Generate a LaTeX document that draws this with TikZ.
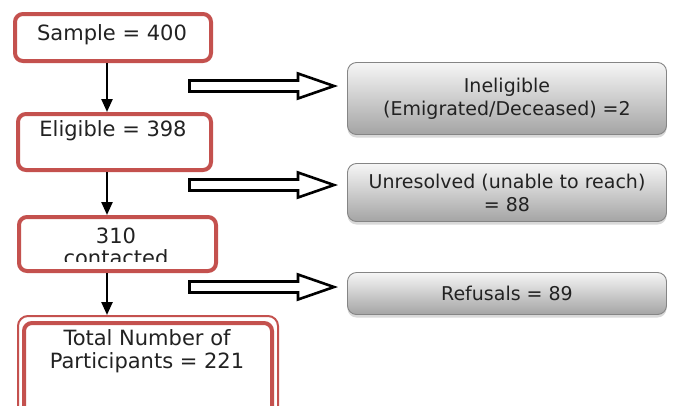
\documentclass[tikz,border=0pt]{standalone}
\usepackage{fontspec}
\setmainfont{DejaVu Sans}
\usetikzlibrary{shadows,arrows.meta,calc}
\definecolor{boxred}{HTML}{C4514E}
\definecolor{gtop}{HTML}{F6F6F6}
\definecolor{gbot}{HTML}{A4A4A4}
\definecolor{gline}{HTML}{858585}
\definecolor{txt}{HTML}{222222}
\tikzset{
  redbox/.style={draw=boxred, line width=4pt, rounded corners=8pt, fill=white, inner sep=0pt},
  graybox/.style={draw=gline, line width=0.9pt, rounded corners=9pt, top color=gtop, bottom color=gbot,
     drop shadow={shadow xshift=0pt, shadow yshift=-3pt, opacity=0.3}, inner sep=0pt,
     minimum width=319pt, align=center, font=\fontsize{19}{23}\selectfont, text=txt},
  bigarrow/.style={draw=black, line width=2.6pt, fill=white, line join=miter},
  vline/.style={draw=black, line width=2.4pt, -{Triangle[length=13pt,width=11pt]}},
  redtext/.style={font=\fontsize{21}{22.5}\selectfont, text=txt, inner sep=0pt, align=center}
}
\begin{document}
\begin{tikzpicture}[x=1pt,y=-1pt]
\useasboundingbox (0,0) rectangle (674,405);
% red boxes
\node[redbox, minimum width=196pt, minimum height=47pt] (s) at (113,37.5) {};
\node[redtext] (st) at (112,34.5) {Sample = 400};
\node[redbox, minimum width=193pt, minimum height=56pt] (e) at (114.5,142) {};
\node[redtext] (et) at (113,131) {Eligible = 398};
\node[redbox, minimum width=197pt, minimum height=54pt] (c) at (117.5,244) {};
\begin{scope}
\clip (c.north west) rectangle ([yshift=12pt]c.south east);
\node[redtext] (ct) at (116,247) {310\\contacted};
\end{scope}
% total box (double border), extends past the bottom
\node[draw=boxred, line width=2pt, rounded corners=10pt, fill=white, minimum width=260pt, minimum height=110pt, inner sep=0pt] (t) at (148,371) {};
\node[draw=boxred, line width=4pt, rounded corners=8pt, minimum width=248pt, minimum height=96pt, inner sep=0pt] (ti) at (148,371) {};
\node[redtext] (tt) at (147,351) {Total Number of\\Participants = 221};
% vertical arrows
\draw[vline] ([xshift=-6pt]s.south) -- ([xshift=-7.5pt]e.north);
\draw[vline] ([xshift=-7.5pt]e.south) -- ([xshift=-10.5pt]c.north);
\draw[vline] ([xshift=-10.5pt]c.south) -- ([xshift=-41pt]t.north);
% gray boxes
\node[graybox, minimum height=72pt] (g1) at (507,98.5) {Ineligible\\(Emigrated/Deceased) =2};
\node[graybox, minimum height=58pt] (g2) at (507,192.5) {Unresolved (unable to reach)\\= 88};
\node[graybox, minimum height=42pt] (g3) at (507,293.5) {Refusals = 89};
% block arrows
\foreach \yy/\nm in {86/a1,185/a2,287/a3}{
  \path[bigarrow] (189.5,\yy-5.5) -- (298,\yy-5.5) -- (298,\yy-12.5) -- (334,\yy)
     -- (298,\yy+12.5) -- (298,\yy+5.5) -- (189.5,\yy+5.5) -- cycle;
}
\end{tikzpicture}
\end{document}
